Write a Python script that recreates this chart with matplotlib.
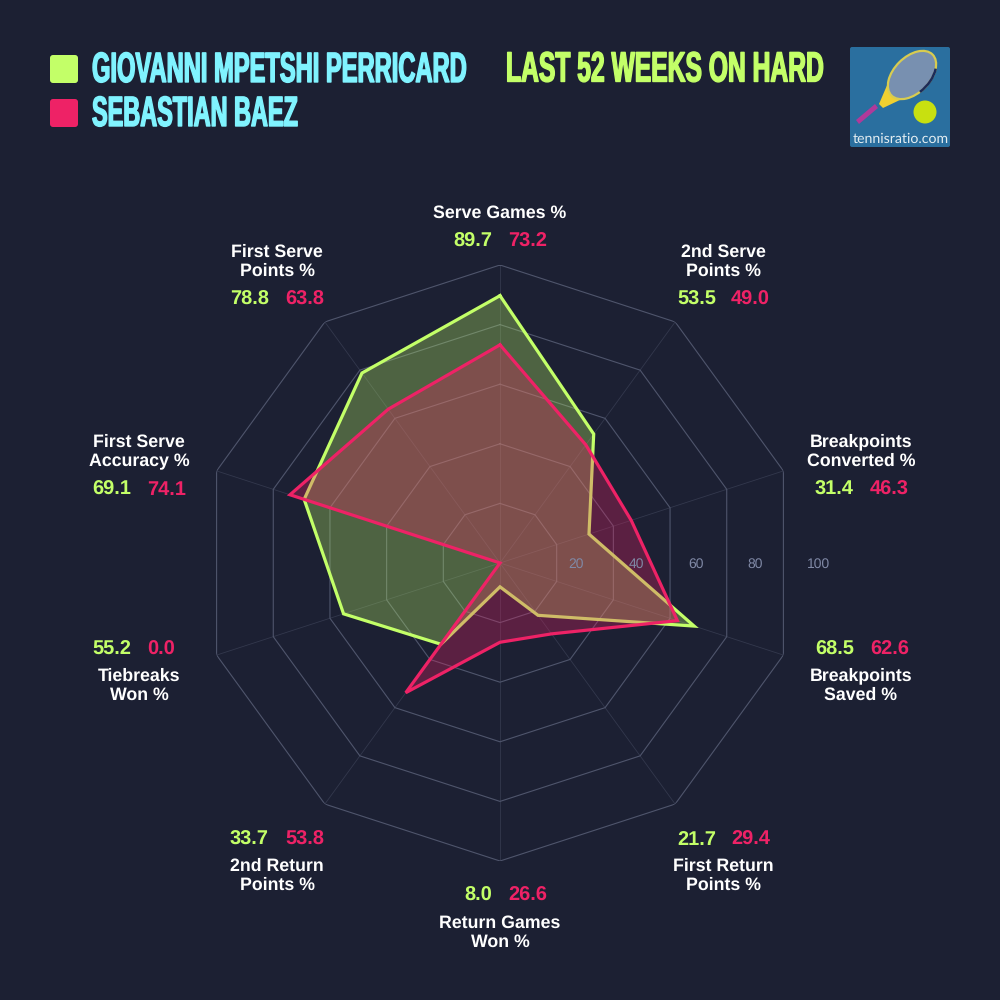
import numpy as np
import matplotlib
matplotlib.use('Agg')
import matplotlib.pyplot as plt
from matplotlib.patches import FancyBboxPatch, Circle, Ellipse, Polygon, Arc
from matplotlib.patheffects import AbstractPathEffect
from matplotlib.transforms import Affine2D

plt.rcParams['text.hinting'] = 'no_hinting'

# Data
categories = ['Serve Games %', '2nd Serve\nPoints %', 'Breakpoints\nConverted %', 'Breakpoints\nSaved %',
	'First Return\nPoints %', 'Return Games\nWon %', '2nd Return\nPoints %', 'Tiebreaks\nWon %',
	'First Serve\nAccuracy %', 'First Serve\nPoints %']
perricard = [89.7, 53.5, 31.4, 68.5, 21.7, 8.0, 33.7, 55.2, 69.1, 78.8]
baez = [73.2, 49.0, 46.3, 62.6, 29.4, 26.6, 53.8, 0.0, 74.1, 63.8]
ring_values = [20, 40, 60, 80, 100]
player_names = ['GIOVANNI MPETSHI PERRICARD', 'SEBASTIAN BAEZ']
subtitle = 'LAST 52 WEEKS ON HARD'

BG = '#1c2033'
GREEN = '#c3ff68'
PINK = '#ee2266'
CYAN = '#80f3ff'
GRID = '#4f556c'
TICK = '#8089a6'
BODY_FONT = ['Liberation Sans']

# No condensed headline font is installed: set the text small and stretch it upward at draw time
class Stretch(AbstractPathEffect):
	def __init__(self, sy, lw):
		super().__init__()
		self.sy = sy
		self.lw = lw

	def draw_path(self, renderer, gc, tpath, affine, rgbFace=None):
		gc0 = renderer.new_gc()
		gc0.copy_properties(gc)
		gc0.set_linewidth(self.lw)
		gc0.set_foreground(rgbFace)
		renderer.draw_path(gc0, tpath, Affine2D().scale(1, self.sy) + affine, rgbFace)
		gc0.restore()

fig = plt.figure(figsize=(10, 10), dpi=100, facecolor=BG)

# Radar in a polar axes, centre at (500, 563) px, outer radius 298 px
ax = fig.add_axes([0.202, 0.139, 0.596, 0.596], projection='polar')
ax.set_theta_zero_location('N')
ax.set_theta_direction(-1)
ax.set_ylim(0, 100)
ax.axis('off')

angles = np.linspace(0, 2 * np.pi, len(categories), endpoint=False)
closed = np.append(angles, angles[0])

for r in ring_values:
	ax.plot(closed, [r] * len(closed), color=GRID, lw=0.8, zorder=1)
	ax.annotate(str(r), (np.pi / 2, r), xytext=(9, -1), textcoords='offset pixels',
		color=TICK, fontsize=10, family=BODY_FONT, va='center', ha='left', zorder=6)
for a in angles:
	ax.plot([a, a], [0, 100], color=GRID, lw=0.6, alpha=0.45, zorder=1)

ax.fill(closed, perricard + perricard[:1], color=GREEN, alpha=0.3, lw=0, zorder=2)
ax.plot(closed, perricard + perricard[:1], color=GREEN, lw=2.3, zorder=3, solid_joinstyle='miter')
ax.fill(closed, baez + baez[:1], color=PINK, alpha=0.3, lw=0, zorder=4)
ax.plot(closed, baez + baez[:1], color=PINK, lw=2.3, zorder=5, solid_joinstyle='miter')

# Overlay in pixel coordinates for header and labels
over = fig.add_axes([0, 0, 1, 1], facecolor='none')
over.set_xlim(0, 1000)
over.set_ylim(1000, 0)
over.axis('off')

def headline(x, baseline, s, colour, width_px):
	full_size = 30.5
	t = over.text(x, baseline, s, color=colour, fontsize=full_size, fontweight='bold', family=BODY_FONT,
		va='baseline', ha='left')
	natural = t.get_window_extent(fig.canvas.get_renderer()).width
	shrink = width_px / natural
	t.set_fontsize(full_size * shrink)
	t.set_path_effects([Stretch(1 / shrink, 1.0)])

for y, colour, name, w in zip([69, 113], [GREEN, PINK], player_names, [375, 206]):
	over.add_patch(FancyBboxPatch((50, y - 14), 28, 28, boxstyle='round,pad=0,rounding_size=3', fc=colour, ec='none'))
	headline(92, y + 13, name, CYAN, w)
headline(506, 81.5, subtitle, GREEN, 318)

# (label x, label first line y, green x, pink x, values y)
label_pos = [
	(500, 213, 472.5, 527.5, 242),
	(723, 252, 696.5, 750.5, 300),
	(861, 442, 834.5, 889.5, 490),
	(861, 676, 834.5, 889.5, 650),
	(723, 866, 696.5, 750.5, 840),
	(500, 923, 478, 527.5, 896),
	(277, 866, 249.5, 304.5, 840),
	(139, 676, 111.5, 161, 650),
	(139, 442, 111.5, 166.5, 490),
	(277, 252, 249.5, 304.5, 300),
]
for cat, p, g, b in zip(categories, label_pos, perricard, baez):
	for i, line in enumerate(cat.split('\n')):
		over.text(p[0], p[1] + i * 19.5, line, color='white', fontsize=12.8, fontweight='bold',
			family=BODY_FONT, ha='center', va='center')
	over.text(p[2], p[4], f'{g:.1f}', color=GREEN, fontsize=14.4, fontweight='bold', family=BODY_FONT, ha='center', va='center')
	over.text(p[3], p[4], f'{b:.1f}', color=PINK, fontsize=14.4, fontweight='bold', family=BODY_FONT, ha='center', va='center')

# Logo
over.add_patch(FancyBboxPatch((850, 47), 100, 100, boxstyle='round,pad=0,rounding_size=2', fc='#2a6f9f', ec='none'))
over.add_patch(Polygon([(856, 120), (859, 124), (878, 108), (875, 104)], fc='#b03a9a', ec='none'))
over.add_patch(Polygon([(879, 104), (883, 108), (902, 99), (888, 83)], fc='#f0d030', ec='none'))
over.add_patch(Ellipse((912, 75), 36, 58, angle=45, fc='#7890b0', ec='#d8cc50', lw=1.6))
over.add_patch(Arc((912, 75), 36, 58, angle=45, theta1=-60, theta2=20, ec='#1c2a5a', lw=1.8))
over.add_patch(Circle((925, 112), 11.5, fc='#c8e010', ec='none'))
over.text(901, 139, 'tennisratio.com', color='#e4eef2', fontsize=10.2, family=['Lato', 'DejaVu Sans'], ha='center', va='center')

fig.savefig('out.png', dpi=100, facecolor=BG)
